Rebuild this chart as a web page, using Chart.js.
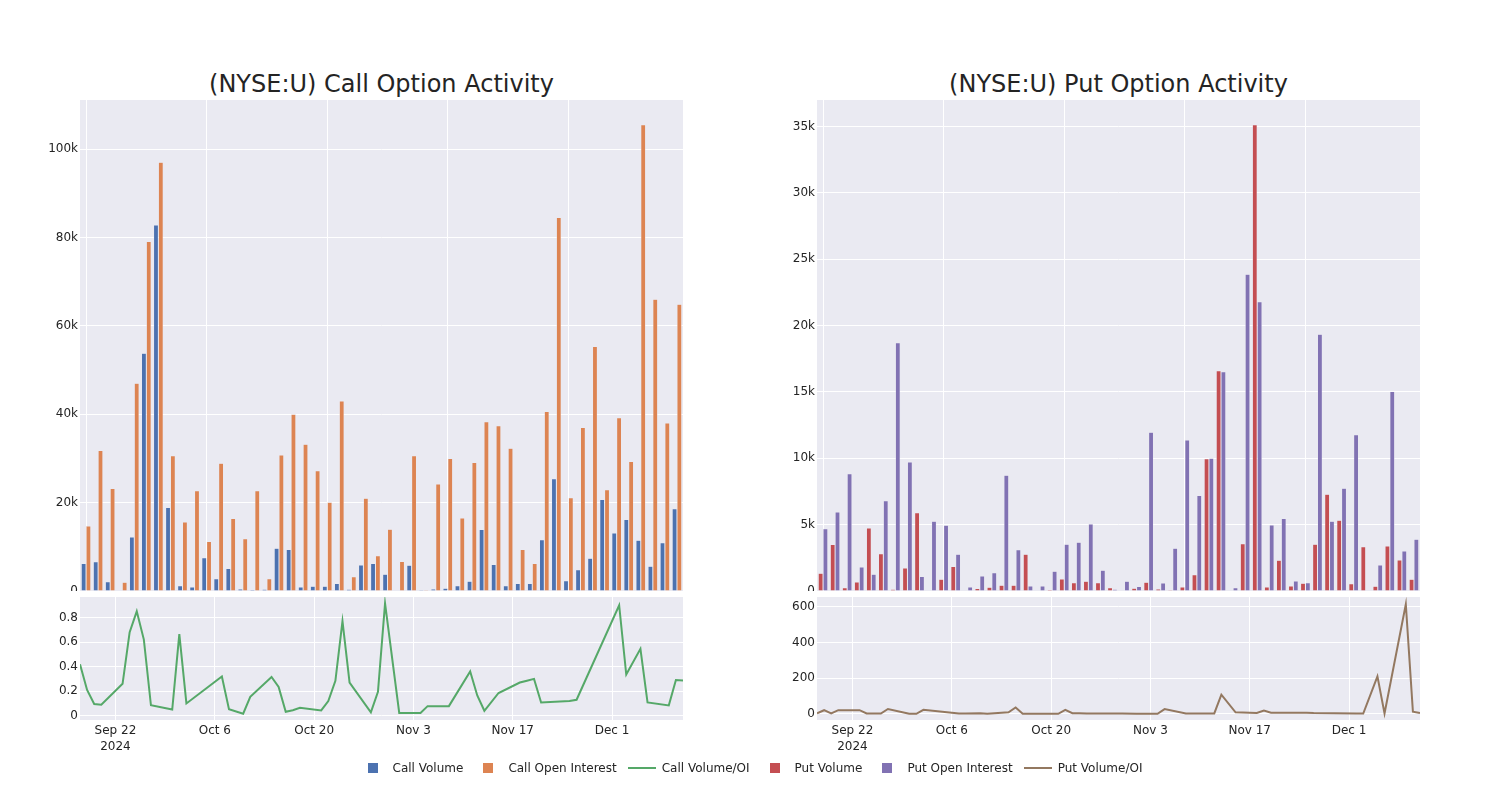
<!DOCTYPE html>
<html>
<head>
<meta charset="utf-8">
<script src="https://cdn.jsdelivr.net/npm/chart.js@4.4.1/dist/chart.umd.min.js"></script>
<style>
  body { margin: 0; background: #fff; font-family: 'DejaVu Sans', sans-serif; }
  #wrap { position: relative; width: 1500px; height: 800px; overflow: hidden; }
  canvas { position: absolute; }
  .title { position: absolute; top: 70px; font-size: 24px; line-height: 28px; color: rgb(36,36,36); text-align: center; white-space: nowrap; }
  #legend { position: absolute; top: 760px; left: 0; width: 1500px; height: 16px; display: flex; justify-content: center; font-size: 12px; color: rgb(36,36,36); }
  .item { display: flex; align-items: center; margin-right: 5px; }
  .sym { width: 40px; height: 16px; position: relative; }
  .sq { position: absolute; left: 15px; top: 3px; width: 10px; height: 10px; }
  .ln { position: absolute; left: 6px; top: 7px; width: 28px; height: 2px; }
</style>
</head>
<body>
<div id="wrap">
  <div class="title" style="left:80px;width:603px">(NYSE:U) Call Option Activity</div>
  <div class="title" style="left:817px;width:603px">(NYSE:U) Put Option Activity</div>
  <canvas id="callBars" width="683" height="491" style="left:0;top:100px"></canvas>
  <canvas id="callRatio" width="683" height="170" style="left:0;top:597px"></canvas>
  <canvas id="putBars" width="663" height="491" style="left:757px;top:100px"></canvas>
  <canvas id="putRatio" width="663" height="170" style="left:757px;top:597px"></canvas>
  <div id="legend"></div>
</div>
<script>
const dates = ['2024-09-17','2024-09-18','2024-09-19','2024-09-20','2024-09-23','2024-09-24','2024-09-25','2024-09-26','2024-09-27','2024-09-30',
  '2024-10-01','2024-10-02','2024-10-07','2024-10-08','2024-10-10','2024-10-11','2024-10-14','2024-10-15','2024-10-16','2024-10-17',
  '2024-10-18','2024-10-21','2024-10-22','2024-10-23','2024-10-24','2024-10-25','2024-10-28','2024-10-29','2024-10-30','2024-11-01',
  '2024-11-04','2024-11-05','2024-11-08','2024-11-11','2024-11-12','2024-11-13','2024-11-15','2024-11-18','2024-11-19','2024-11-20',
  '2024-11-21','2024-11-25','2024-11-26','2024-12-02','2024-12-03','2024-12-05','2024-12-06','2024-12-09','2024-12-10','2024-12-11'];

const callVolume = [6200, 6600, 2100, 150, 12200, 53800, 82800, 18900, 1200, 900,
  7500, 2800, 5100, 450, 300, 400, 9700, 9400, 900, 1050,
  1050, 1700, 400, 5900, 6200, 3800, 150, 5800, 200, 450,
  600, 1200, 2200, 13900, 6000, 1200, 1700, 1700, 11600, 25400,
  2300, 4800, 7400, 20700, 13100, 16200, 11500, 5600, 10900, 18600];
const callOpenInterest = [14700, 31800, 23200, 2000, 47000, 79100, 97000, 30600, 15600, 22700,
  11200, 28900, 16400, 11800, 22700, 2800, 30800, 40000, 33200, 27200,
  20100, 43000, 3200, 21000, 8000, 14000, 6700, 30600, 220, 24200,
  30000, 16500, 29100, 38300, 37400, 32300, 9400, 6200, 40600, 84500,
  21100, 37000, 55300, 22900, 39200, 29300, 105500, 66000, 38000, 64900];
const callVolumeOI = [0.42, 0.21, 0.095, 0.09, 0.26, 0.68, 0.85, 0.62, 0.085, 0.05,
  0.665, 0.10, 0.32, 0.053, 0.016, 0.154, 0.316, 0.235, 0.032, 0.045,
  0.064, 0.043, 0.119, 0.284, 0.77, 0.27, 0.027, 0.195, 0.915, 0.022,
  0.022, 0.078, 0.078, 0.36, 0.165, 0.04, 0.185, 0.27, 0.285, 0.30,
  0.108, 0.12, 0.13, 0.90, 0.335, 0.545, 0.108, 0.084, 0.29, 0.287];

const putVolume = [1330, 3500, 250, 680, 4750, 2800, 130, 1730, 5900, 50,
  880, 1840, 30, 180, 280, 430, 430, 2770, 50, 100,
  900, 630, 730, 630, 250, 20, 200, 650, 150, 80,
  300, 1230, 9960, 16600, 20, 3570, 35130, 300, 2310, 380,
  580, 3520, 7290, 5330, 550, 3340, 350, 3390, 2340, 880];
const putOpenInterest = [4700, 5960, 8830, 1810, 1260, 6800, 18700, 9730, 1100, 5260,
  4950, 2770, 300, 1130, 1380, 8730, 3100, 380, 380, 1480,
  3520, 3670, 5050, 1560, 130, 730, 330, 11970, 600, 3220,
  11370, 7190, 10000, 16520, 250, 23860, 21800, 4980, 5460, 750,
  630, 19340, 5260, 7740, 11770, 20, 1960, 15040, 3020, 3900];
const putVolumeOI = [3, 20, 2, 20, 20, 2, 1, 1, 27, 0,
  0, 22, 1, 1, 3, 0, 8, 35, 0, 0,
  0, 0, 22, 3, 3, 1, 1, 1, 1, 0,
  0, 26, 2, 2, 2, 107, 8, 4, 18, 6,
  6, 6, 4, 2, 1, 210, 2, 615, 12, 4];

const xTickDates = ['2024-09-22', '2024-10-06', '2024-10-20', '2024-11-03', '2024-11-17', '2024-12-01'];
const xTickLabels = [['Sep 22', '2024'], 'Oct 6', 'Oct 20', 'Nov 3', 'Nov 17', 'Dec 1'];
const callYTicks = [0, 20000, 40000, 60000, 80000, 100000];
const putYTicks = [0, 5000, 10000, 15000, 20000, 25000, 30000, 35000];
const callRatioTicks = [0, 0.2, 0.4, 0.6, 0.8];
const putRatioTicks = [0, 200, 400, 600];

const C = {
  callVol: '#4C72B0', callOI: '#DD8452', callRatio: '#55A868',
  putVol: '#C44E52', putOI: '#8172B3', putRatio: '#937860'
};

Chart.defaults.font.family = "'DejaVu Sans', sans-serif";
Chart.defaults.font.size = 12;
Chart.defaults.color = 'rgb(36,36,36)';

// grey plot background like the seaborn template
const plotBg = {
  id: 'plotBg',
  beforeDraw(chart) {
    const { ctx, chartArea: a } = chart;
    ctx.save();
    ctx.fillStyle = '#EAEAF2';
    ctx.fillRect(a.left, a.top, a.width, a.height);
    ctx.restore();
  }
};

const day0 = Date.parse(dates[0]);
const dayNum = d => (Date.parse(d) - day0) / 86400000;
const kFmt = v => v === 0 ? '0' : (v / 1000) + 'k';

function yAxis(min, max, ticks, width, fmt) {
  return {
    min, max,
    afterBuildTicks: s => { s.ticks = ticks.map(v => ({ value: v })); },
    afterFit: s => { s.width = width; s.paddingTop = 0; s.paddingBottom = 0; },
    grid: { color: '#fff', lineWidth: 1, drawTicks: false },
    border: { display: false },
    ticks: { padding: 2, callback: fmt }
  };
}

function barChart(id, vol, oi, volLabel, oiLabel, colors, yMax, yTicks, axisW) {
  return new Chart(document.getElementById(id), {
    type: 'bar',
    data: {
      labels: dates,
      datasets: [
        { label: volLabel, data: vol, backgroundColor: colors[0], borderColor: '#EAEAF2', borderWidth: 0.5 },
        { label: oiLabel, data: oi, backgroundColor: colors[1], borderColor: '#EAEAF2', borderWidth: 0.5 }
      ]
    },
    options: {
      responsive: false,
      animation: false,
      devicePixelRatio: 1,
      layout: { padding: 0, autoPadding: false },
      datasets: { bar: { categoryPercentage: 0.8, barPercentage: 1.0 } },
      plugins: { legend: { display: false }, tooltip: { enabled: false } },
      scales: {
        x: {
          afterBuildTicks: s => { s.ticks = s.ticks.filter(t => t.value % 10 === 0); },
          afterFit: s => { s.height = 0; s.paddingLeft = 0; s.paddingRight = 0; },
          grid: { color: '#fff', offset: false, drawTicks: false },
          border: { display: false },
          ticks: { display: false }
        },
        y: yAxis(0, yMax, yTicks, axisW, kFmt)
      }
    },
    plugins: [plotBg]
  });
}

function ratioChart(id, values, label, color, yMin, yMax, yTicks, axisW) {
  return new Chart(document.getElementById(id), {
    type: 'line',
    data: {
      datasets: [{
        label,
        data: dates.map((d, i) => ({ x: dayNum(d), y: values[i] })),
        borderColor: color,
        borderWidth: 2,
        pointRadius: 0,
        tension: 0
      }]
    },
    options: {
      responsive: false,
      animation: false,
      devicePixelRatio: 1,
      layout: { padding: 0, autoPadding: false },
      plugins: { legend: { display: false }, tooltip: { enabled: false } },
      scales: {
        x: {
          type: 'linear',
          min: 0,
          max: dayNum(dates[dates.length - 1]),
          afterBuildTicks: s => { s.ticks = xTickDates.map(d => ({ value: dayNum(d) })); },
          afterFit: s => { s.height = 47; s.paddingLeft = 0; s.paddingRight = 0; },
          grid: { color: '#fff', drawTicks: false },
          border: { display: false },
          ticks: { padding: 3, maxRotation: 0, autoSkip: false, font: { lineHeight: 1.333 },
            callback: (v, i) => xTickLabels[i] }
        },
        y: yAxis(yMin, yMax, yTicks, axisW, v => String(v))
      }
    },
    plugins: [plotBg]
  });
}

barChart('callBars', callVolume, callOpenInterest, 'Call Volume', 'Call Open Interest',
  [C.callVol, C.callOI], 111100, callYTicks, 80);
ratioChart('callRatio', callVolumeOI, 'Call Volume/OI', C.callRatio, -0.035, 0.967, callRatioTicks, 80);
barChart('putBars', putVolume, putOpenInterest, 'Put Volume', 'Put Open Interest',
  [C.putVol, C.putOI], 37000, putYTicks, 60);
ratioChart('putRatio', putVolumeOI, 'Put Volume/OI', C.putRatio, -35, 656, putRatioTicks, 60);

// shared legend under both panels
const legendItems = [
  ['Call Volume', C.callVol, 'sq'], ['Call Open Interest', C.callOI, 'sq'], ['Call Volume/OI', C.callRatio, 'ln'],
  ['Put Volume', C.putVol, 'sq'], ['Put Open Interest', C.putOI, 'sq'], ['Put Volume/OI', C.putRatio, 'ln']
];
const legend = document.getElementById('legend');
legendItems.forEach(([text, color, kind]) => {
  const item = document.createElement('div');
  item.className = 'item';
  item.innerHTML = `<div class="sym"><div class="${kind}" style="background:${color}"></div></div><span>${text}</span>`;
  legend.appendChild(item);
});
</script>
</body>
</html>
